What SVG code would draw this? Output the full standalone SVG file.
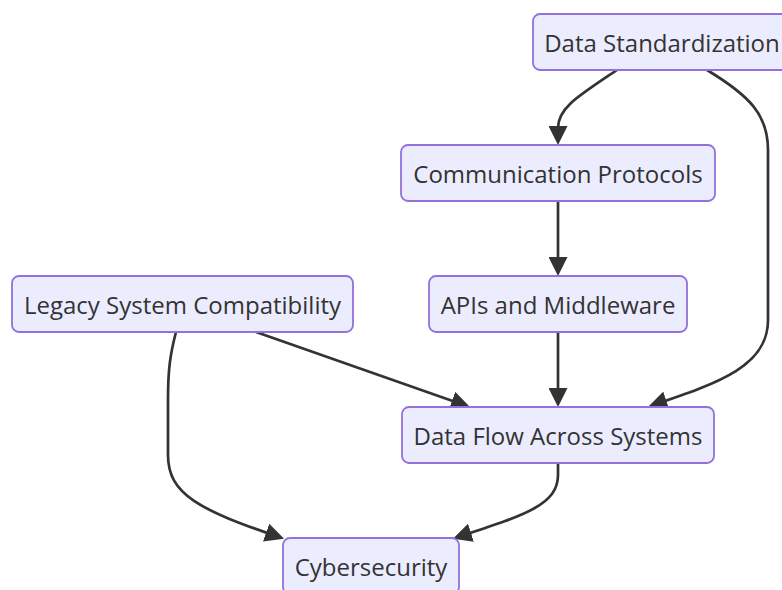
<svg xmlns="http://www.w3.org/2000/svg" width="782" height="590" viewBox="0 0 782 590">
<style>
.node rect{fill:#ECECFF;stroke:#9370DB;stroke-width:1.8}
.node text{font-family:"Open Sans","Noto Sans","Liberation Sans",sans-serif;font-size:24px;fill:#333333;text-anchor:middle;dominant-baseline:central}
.edge{fill:none;stroke:#333333;stroke-width:2.7;marker-end:url(#arrow)}
</style>
<defs>
<marker id="arrow" viewBox="0 0 10 10" refX="7.9" refY="5" markerWidth="19" markerHeight="19" markerUnits="userSpaceOnUse" orient="auto">
<path d="M0,0 L10,5 L0,10 z" fill="#333333"/>
</marker>
</defs>
<rect width="782" height="590" fill="#ffffff"/>
<g id="connectors">
<path class="edge" d="M617,70 C577,97 558,108 558,128 L558,141"/>
<path class="edge" d="M707,70 C750,96 768,115 768,150 L768,320 C768,365 722,382 652,405.4"/>
<path class="edge" d="M558,201 L558,272"/>
<path class="edge" d="M558,332 L558,403"/>
<path class="edge" d="M256,332 L466.2,405.7"/>
<path class="edge" d="M176,332 C170,355 168,370 168,400 L168,455 C168,495 200,510 280.3,537.5"/>
<path class="edge" d="M558,463 L558,475 C558,505 525,515 456.7,537.5"/>
</g>
<g id="data-standardization" class="node"><rect x="533" y="14" width="258" height="56" rx="7"/><text x="662" y="42">Data Standardization</text></g>
<g id="communication-protocols" class="node"><rect x="401" y="145" width="314" height="56" rx="7"/><text x="558" y="173">Communication Protocols</text></g>
<g id="apis-middleware" class="node"><rect x="429" y="276" width="258" height="56" rx="7"/><text x="558" y="304">APIs and Middleware</text></g>
<g id="legacy-compatibility" class="node"><rect x="12" y="276" width="341" height="56" rx="7"/><text x="182.5" y="304">Legacy System Compatibility</text></g>
<g id="data-flow" class="node"><rect x="402" y="407" width="312" height="56" rx="7"/><text x="558" y="435">Data Flow Across Systems</text></g>
<g id="cybersecurity" class="node"><rect x="283" y="538" width="176" height="56" rx="7"/><text x="371" y="566">Cybersecurity</text></g>
</svg>
